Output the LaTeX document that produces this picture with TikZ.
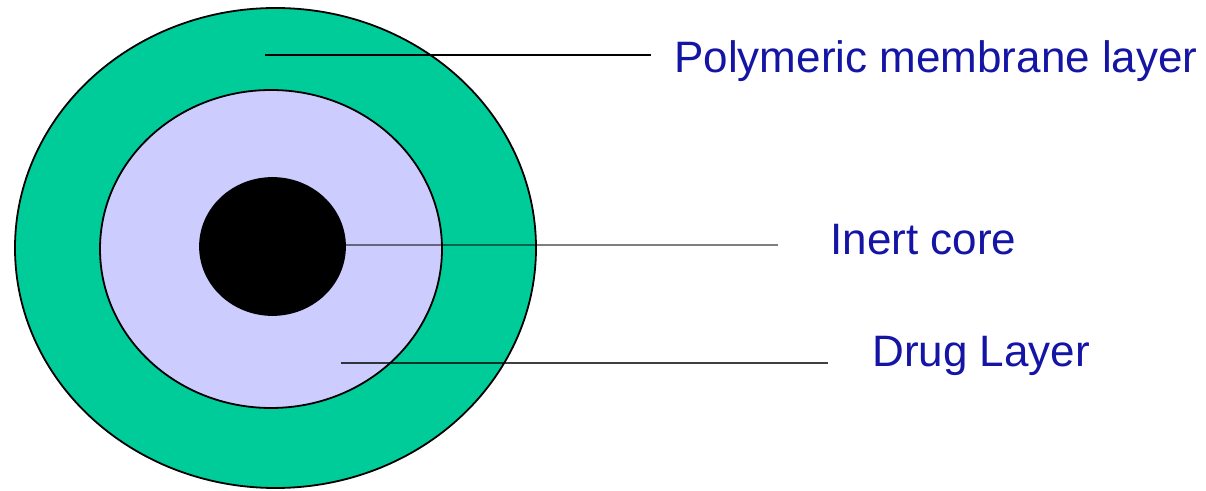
\documentclass[tikz,border=0pt]{standalone}
\usepackage{fontspec}
\setmainfont{Liberation Sans}
\usepackage{tikz}
\usetikzlibrary{positioning}
\definecolor{ShellGreen}{RGB}{0,204,153}
\definecolor{DrugLilac}{RGB}{204,204,255}
\definecolor{LabelBlue}{RGB}{20,20,165}
\tikzset{
  layer/.style = {draw=black, line width=0.9pt},
  lbl/.style   = {anchor=base west, inner sep=0pt, text=LabelBlue,
                  font=\fontsize{22}{26}\selectfont},
  lead/.style  = {line width=1.3pt}
}

\begin{document}
\begin{tikzpicture}[x=0.5pt, y=-0.5pt]
\useasboundingbox (0,0) rectangle (1206,491);
% layers of the pellet
\filldraw[layer, fill=ShellGreen] (275.5,248) ellipse [x radius=260.5, y radius=240];
\filldraw[layer, fill=DrugLilac]  (271,249) ellipse [x radius=171, y radius=159];
\filldraw[layer, fill=black]      (272.5,246.5) ellipse [x radius=72.5, y radius=68.5];
% labels
\node[lbl] (poly) at (674,73)  {Polymeric membrane layer};
\node[lbl] (core) at (830,255) {Inert core};
\node[lbl] (drug) at (872,367) {Drug Layer};
\coordinate (polyin)  at (265,55);
\coordinate (polyend) at (651,55);
\coordinate (corein)  at (345,245);
\coordinate (coreend) at (778,245);
\coordinate (drugin)  at (341,363);
\coordinate (drugend) at (828,363);
\draw[lead] (polyin) -- (polyend);
\draw[lead, draw opacity=0.5]  (corein) -- (coreend);
\draw[lead, draw opacity=0.75] (drugin) -- (drugend);
\end{tikzpicture}
\end{document}
